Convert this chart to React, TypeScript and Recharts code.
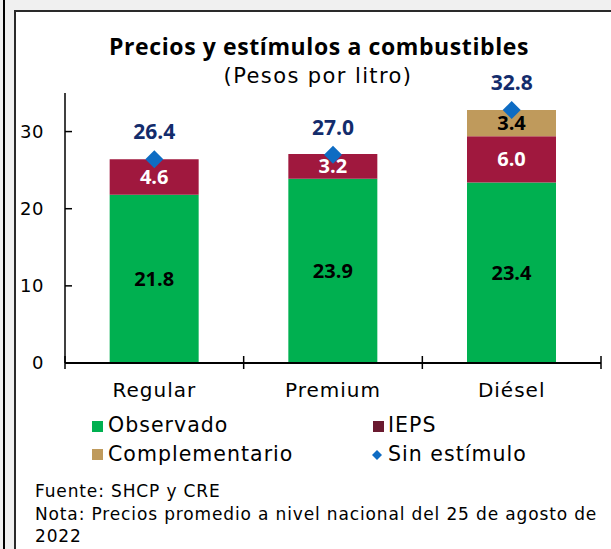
import React from 'react';
import { ComposedChart, Bar, Line, XAxis, YAxis, LabelList } from 'recharts';

const categories = ['Regular', 'Premium', 'Diésel'];
const observado = [21.8, 23.9, 23.4];
const ieps = [4.6, 3.2, 6.0];
const complementario: (number | null)[] = [null, null, 3.4];
const sinEstimulo = [26.4, 27.0, 32.8];
const yTicks = [0, 10, 20, 30];

const data = categories.map((name, i) => ({
  name,
  observado: observado[i],
  ieps: ieps[i],
  complementario: complementario[i],
  sin: sinEstimulo[i],
}));

const FONT = '"Open Sans", sans-serif';
const FONT_W = '"DejaVu Sans", sans-serif';
const W = 611;
const H = 549;
const M = { top: 93, right: 10, bottom: 156, left: 0 };
const Y_AXIS_W = 65;
const X_AXIS_H = 30;
const HALF_BAND = (W - M.left - Y_AXIS_W - M.right) / categories.length / 2;

const GREEN = '#00b050';
const MAROON = '#a0183e';
const MAROON_LEG = '#6a1a30';
const TAN = '#bf9a5c';
const BLUE = '#0e6cc3';
const NAVY = '#132c6c';

const fmt = (v: any) => (v == null ? '' : Number(v).toFixed(1));

const YTick = (props: any) => {
  const { x, y, payload } = props;
  return (
    <g>
      <line x1={x} x2={x + 7} y1={y} y2={y} stroke="#000" strokeWidth={1.5} />
      <text x={x - 21} y={y} dy="0.36em" textAnchor="end" fontFamily={FONT_W} fontSize={18} letterSpacing={0.5} fill="#000">
        {payload.value}
      </text>
    </g>
  );
};

const XTick = (props: any) => {
  const { x, y, payload, index, visibleTicksCount } = props;
  const last = index === (visibleTicksCount ?? categories.length) - 1;
  return (
    <g>
      <line x1={x - HALF_BAND} x2={x - HALF_BAND} y1={y - 7} y2={y + 6} stroke="#000" strokeWidth={1.5} />
      {last && <line x1={x + HALF_BAND} x2={x + HALF_BAND} y1={y - 7} y2={y + 6} stroke="#000" strokeWidth={1.5} />}
      <text x={x} y={y + 34} textAnchor="middle" fontFamily={FONT_W} fontSize={20} letterSpacing={1} fill="#000">
        {payload.value}
      </text>
    </g>
  );
};

const Diamond = (props: any) => {
  const { cx, cy } = props;
  if (cx == null || cy == null) return null;
  const r = 9;
  return <path d={`M${cx},${cy - r}L${cx + r},${cy}L${cx},${cy + r}L${cx - r},${cy}Z`} fill={BLUE} />;
};

const legendText = { fontFamily: FONT_W, fontSize: 20.5, letterSpacing: 1.03, fill: '#000' } as const;
const noteText = { fontFamily: FONT_W, fontSize: 17, letterSpacing: 0.86, fill: '#000' } as const;

export default function App() {
  return (
    <div style={{ position: 'absolute', left: 0, top: 0, width: W, height: H, background: '#f0f0f0', overflow: 'hidden' }}>
      <div style={{ position: 'absolute', left: 3, top: 0, width: 2, height: H, background: '#000' }} />
      <div
        style={{
          position: 'absolute',
          left: 14,
          top: 10,
          width: W,
          height: H,
          background: '#fff',
          borderTop: '2px solid #2a2a2a',
          borderLeft: '2px solid #2a2a2a',
        }}
      />
      <svg width={W} height={H} style={{ position: 'absolute', left: 0, top: 0 }}>
        <text x={319} y={55} textAnchor="middle" fontFamily={FONT} fontSize={23} fontWeight={700} letterSpacing={0.6} fill="#000">
          Precios y estímulos a combustibles
        </text>
        <text x={318} y={83} textAnchor="middle" fontFamily={FONT_W} fontSize={21} letterSpacing={1.4} fill="#000">
          (Pesos por litro)
        </text>
        <rect x={92} y={421} width={11} height={11} fill={GREEN} />
        <text x={108} y={432} {...legendText}>Observado</text>
        <rect x={373} y={421} width={11} height={11} fill={MAROON_LEG} />
        <text x={388} y={432} {...legendText}>IEPS</text>
        <rect x={92} y={449} width={11} height={11} fill={TAN} />
        <text x={108} y={461} {...legendText}>Complementario</text>
        <path d="M377,450L382,455L377,460L372,455Z" fill={BLUE} />
        <text x={388} y={461} {...legendText}>Sin estímulo</text>
        <text x={35} y={497} {...noteText}>Fuente: SHCP y CRE</text>
        <text x={35} y={520} {...noteText}>
          Nota: Precios promedio a nivel nacional del 25 de agosto de
        </text>
        <text x={35} y={542} {...noteText}>2022</text>
      </svg>
      <div style={{ position: 'absolute', left: 0, top: 0 }}>
        <ComposedChart width={W} height={H} data={data} margin={M} barCategoryGap="25%">
          <XAxis
            dataKey="name"
            height={X_AXIS_H}
            axisLine={{ stroke: '#000', strokeWidth: 2 }}
            tickLine={false}
            tickSize={0}
            tickMargin={0}
            tick={<XTick />}
            interval={0}
          />
          <YAxis
            domain={[0, 35]}
            ticks={yTicks}
            width={Y_AXIS_W}
            axisLine={{ stroke: '#000', strokeWidth: 1.5 }}
            tickLine={false}
            tickSize={0}
            tickMargin={0}
            tick={<YTick />}
            interval={0}
          />
          <Bar dataKey="observado" stackId="a" fill={GREEN} isAnimationActive={false}>
            <LabelList dataKey="observado" position="center" formatter={fmt} fill="#000" fontFamily={FONT} fontSize={20} fontWeight={700} />
          </Bar>
          <Bar dataKey="ieps" stackId="a" fill={MAROON} isAnimationActive={false}>
            <LabelList dataKey="ieps" position="center" formatter={fmt} fill="#fff" fontFamily={FONT} fontSize={20} fontWeight={700} />
          </Bar>
          <Bar dataKey="complementario" stackId="a" fill={TAN} isAnimationActive={false}>
            <LabelList dataKey="complementario" position="center" formatter={fmt} fill="#000" fontFamily={FONT} fontSize={20} fontWeight={700} />
          </Bar>
          <Line
            dataKey="sin"
            stroke="none"
            strokeWidth={0}
            dot={(p: any) => <Diamond key={`d${p.index}`} {...p} />}
            activeDot={false}
            isAnimationActive={false}
          >
            <LabelList dataKey="sin" position="top" offset={20} formatter={fmt} fill={NAVY} fontFamily={FONT} fontSize={21} fontWeight={700} />
          </Line>
        </ComposedChart>
      </div>
    </div>
  );
}
